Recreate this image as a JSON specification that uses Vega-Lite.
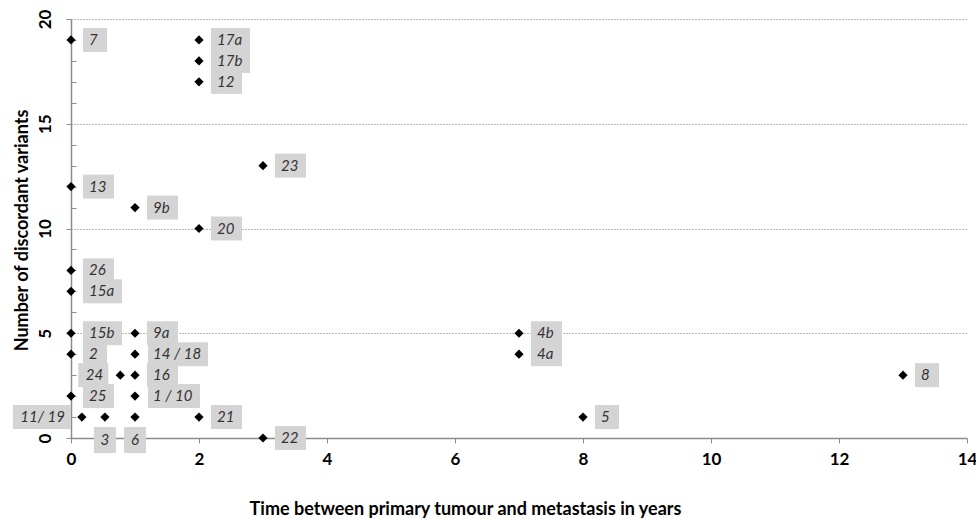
{
  "$schema": "https://vega.github.io/schema/vega-lite/v6.json",
  "width": 896,
  "height": 419,
  "autosize": "none",
  "padding": {"left": 71, "top": 19, "right": 9, "bottom": 81},
  "background": "white",
  "config": {"view": {"stroke": null}, "font": "Lato"},
  "data": {"values": [
    {"x": 0, "y": 19, "label": "7", "side": "right"},
    {"x": 2, "y": 19, "label": "17a", "side": "right"},
    {"x": 2, "y": 18, "label": "17b", "side": "right"},
    {"x": 2, "y": 17, "label": "12", "side": "right"},
    {"x": 3, "y": 13, "label": "23", "side": "right"},
    {"x": 0, "y": 12, "label": "13", "side": "right"},
    {"x": 1, "y": 11, "label": "9b", "side": "right"},
    {"x": 2, "y": 10, "label": "20", "side": "right"},
    {"x": 0, "y": 8, "label": "26", "side": "right"},
    {"x": 0, "y": 7, "label": "15a", "side": "right"},
    {"x": 0, "y": 5, "label": "15b", "side": "right"},
    {"x": 1, "y": 5, "label": "9a", "side": "right"},
    {"x": 7, "y": 5, "label": "4b", "side": "right"},
    {"x": 0, "y": 4, "label": "2", "side": "right"},
    {"x": 1, "y": 4, "label": "14 / 18", "side": "right"},
    {"x": 7, "y": 4, "label": "4a", "side": "right"},
    {"x": 0.77, "y": 3, "label": "24", "side": "left"},
    {"x": 1, "y": 3, "label": "16", "side": "right"},
    {"x": 13, "y": 3, "label": "8", "side": "right"},
    {"x": 0, "y": 2, "label": "25", "side": "right"},
    {"x": 1, "y": 2, "label": "1 / 10", "side": "right"},
    {"x": 0.17, "y": 1, "label": "11/ 19", "side": "left"},
    {"x": 0.53, "y": 1, "label": "3", "side": "below"},
    {"x": 1, "y": 1, "label": "6", "side": "below"},
    {"x": 2, "y": 1, "label": "21", "side": "right"},
    {"x": 8, "y": 1, "label": "5", "side": "right"},
    {"x": 3, "y": 0, "label": "22", "side": "right"}
  ]},
  "encoding": {
    "x": {"field": "x", "type": "quantitative", "scale": {"domain": [0, 14], "nice": false},
      "axis": {"values": [0, 2, 4, 6, 8, 10, 12, 14], "title": "Time between primary tumour and metastasis in years",
        "grid": false, "domainColor": "#8c8c8c", "domainWidth": 1.5, "tickColor": "#8c8c8c", "tickSize": 5,
        "labelFontSize": 17, "labelFontWeight": "bold", "labelColor": "#000", "labelPadding": 8,
        "titleFontSize": 18, "titleFontWeight": "bold", "titleColor": "#000",
        "titleX": 394, "titleY": 76, "titleBaseline": "alphabetic", "titleAlign": "center", "labelFlush": false}},
    "y": {"field": "y", "type": "quantitative", "scale": {"domain": [0, 20], "nice": false},
      "axis": {"values": [0,1,2,3,4,5,6,7,8,9,10,11,12,13,14,15,16,17,18,19,20], "title": "Number of discordant variants",
        "labelExpr": "datum.value % 5 === 0 ? datum.label : ''",
        "grid": true, "gridDash": [1, 2], "gridColor": "#6f6f6f", "gridWidth": 1,
        "gridOpacity": {"condition": {"test": "datum.value % 5 === 0", "value": 1}, "value": 0},
        "tickSize": {"condition": {"test": "datum.value % 5 === 0", "value": 5}, "value": -5},
        "domainColor": "#8c8c8c", "domainWidth": 1.5, "tickColor": "#8c8c8c",
        "labelAngle": -90, "labelFontSize": 17, "labelFontWeight": "bold", "labelColor": "#000", "labelPadding": 12,
        "titleFontSize": 18, "titleFontWeight": "bold", "titleColor": "#000",
        "titleX": -44, "titleY": 211, "titleBaseline": "alphabetic", "titleAngle": -90, "titleAlign": "center", "labelFlush": false}}
  },
  "layer": [
    {
      "mark": {"type": "point", "filled": true, "color": "#d4d4d4", "opacity": 1, "size": 400, "strokeWidth": 0},
      "encoding": {
        "shape": {
          "condition": [
            {"test": "datum.side == 'below'", "value": "M -1.1 1 H 1.1 V 3.6 H -1.1 Z"},
            {"test": "datum.side == 'left' && length(datum.label) > 3", "value": "M -6.9 -1.2 H -1.1 V 1.2 H -6.9 Z"},
            {"test": "datum.side == 'left'", "value": "M -4.2 -1.2 H -1.2 V 1.2 H -4.2 Z"},
            {"test": "datum.label == '14 / 18'", "value": "M 1.3 -1.2 H 7.3 V 1.2 H 1.3 Z"},
            {"test": "datum.label == '1 / 10'", "value": "M 1.3 -1.2 H 6.5 V 1.2 H 1.3 Z"},
            {"test": "length(datum.label) == 3", "value": "M 1.2 -1.2 H 5.1 V 1.2 H 1.2 Z"},
            {"test": "length(datum.label) == 2", "value": "M 1.2 -1.2 H 4.3 V 1.2 H 1.2 Z"}
          ],
          "value": "M 1.2 -1.2 H 3.6 V 1.2 H 1.2 Z"
        }
      }
    },
    {"mark": {"type": "point", "shape": "diamond", "filled": true, "color": "#000", "opacity": 1, "size": 85}},
    {
      "transform": [{"filter": "datum.side == 'right'"}],
      "mark": {"type": "text", "align": "left", "baseline": "middle", "dx": 18, "fontSize": 15, "fontStyle": "italic", "color": "#333"},
      "encoding": {"text": {"field": "label"}}
    },
    {
      "transform": [{"filter": "datum.side == 'left'"}],
      "mark": {"type": "text", "align": "right", "baseline": "middle", "dx": -17, "fontSize": 15, "fontStyle": "italic", "color": "#333"},
      "encoding": {"text": {"field": "label"}}
    },
    {
      "transform": [{"filter": "datum.side == 'below'"}],
      "mark": {"type": "text", "align": "center", "baseline": "middle", "dy": 23, "fontSize": 15, "fontStyle": "italic", "color": "#333"},
      "encoding": {"text": {"field": "label"}}
    }
  ]
}
